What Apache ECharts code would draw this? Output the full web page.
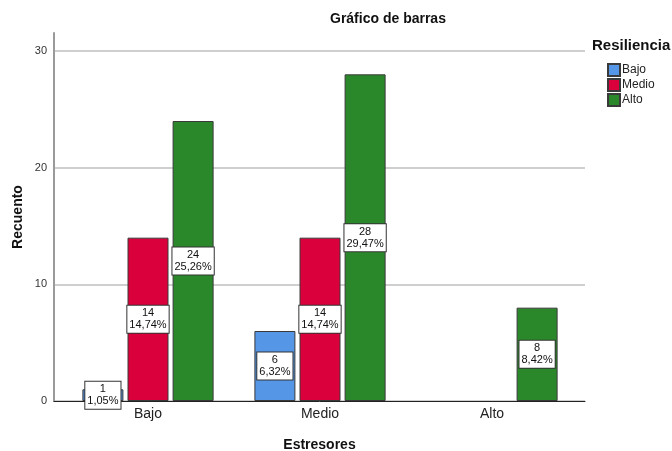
<!DOCTYPE html>
<html>
<head>
<meta charset="utf-8">
<script src="https://cdn.jsdelivr.net/npm/echarts@6/dist/echarts.min.js"></script>
<style>
  html, body { margin: 0; padding: 0; background: #fff; }
  #chart { width: 672px; height: 451px; }
</style>
</head>
<body>
<div id="chart"></div>
<script>
// categorias del eje X (Estresores)
var categories = ["Bajo", "Medio", "Alto"];
// series por nivel de Resiliencia (recuentos)
var bajo = [1, 6, null];
var medio = [14, 14, null];
var alto = [24, 28, 8];
var yTicks = [0, 10, 20, 30];

var total = 95;
var colors = { Bajo: "#5596e6", Medio: "#d9003b", Alto: "#2a882a" };
var font = "Liberation Sans, Arial, sans-serif";

function pct(v) {
  return (v / total * 100).toFixed(2).replace(".", ",") + "%";
}

function makeSeries(name, data) {
  return {
    name: name,
    type: "bar",
    xAxisIndex: 2,
    yAxisIndex: 2,
    data: data,
    barWidth: 41,
    barGap: "10%",
    itemStyle: { color: colors[name], borderColor: "#3a3a3a", borderWidth: 1 },
    label: {
      show: true,
      position: "inside",
      formatter: function (p) { return p.value + "\n" + pct(p.value); },
      backgroundColor: "#fff",
      borderColor: "#333",
      borderWidth: 1,
      padding: [2, 2, 1, 2],
      color: "#111",
      fontSize: 11,
      lineHeight: 12,
      fontFamily: font
    },
    emphasis: { disabled: true }
  };
}

var chart = echarts.init(document.getElementById("chart"));
chart.setOption({
  animation: false,
  title: [
    { text: "Gráfico de barras", left: 330, top: 12, padding: 0,
      textStyle: { fontSize: 14, fontWeight: "bold", color: "#111", fontFamily: font } },
    { text: "Resiliencia", left: 592, top: 38, padding: 0,
      textStyle: { fontSize: 15, fontWeight: "bold", color: "#111", fontFamily: font } }
  ],
  legend: {
    orient: "vertical",
    left: 607,
    top: 63,
    padding: 0,
    itemWidth: 12,
    itemHeight: 12,
    itemGap: 1,
    icon: "rect",
    data: ["Bajo", "Medio", "Alto"],
    textStyle: { fontSize: 12, lineHeight: 12, color: "#222", fontFamily: font, padding: [0, 0, 0, -3] }
  },
  grid: [
    { left: 54, right: 87, top: 51, bottom: 50, outerBoundsMode: "none" },
    { left: 54, right: 87, top: 33, bottom: 50, outerBoundsMode: "none" },
    { left: 62, right: 94, top: 51, bottom: 50, outerBoundsMode: "none" }
  ],
  xAxis: [
    { gridIndex: 0, type: "value", min: 0, max: 1,
      axisLine: { show: true, lineStyle: { color: "#222", width: 1 } },
      axisTick: { show: false }, axisLabel: { show: false }, splitLine: { show: false },
      name: "Estresores", nameLocation: "middle", nameGap: 37,
      nameTextStyle: { fontSize: 14, fontWeight: "bold", color: "#111", fontFamily: font } },
    { gridIndex: 1, type: "value", show: false },
    { gridIndex: 2, type: "category", data: categories,
      axisLine: { show: false }, axisTick: { show: false },
      axisLabel: { fontSize: 14, color: "#222", margin: 6, fontFamily: font } }
  ],
  yAxis: [
    { gridIndex: 0, type: "value", min: yTicks[0], max: yTicks[yTicks.length - 1], interval: 10,
      axisLine: { show: false }, axisTick: { show: false },
      axisLabel: { fontSize: 11, color: "#333", margin: 7, fontFamily: font },
      splitLine: { show: true, lineStyle: { color: "#cfcfcf", width: 2 } } },
    { gridIndex: 1, type: "value", min: 0, max: 1,
      axisLine: { show: true, lineStyle: { color: "#9a9a9a", width: 2 } },
      axisTick: { show: false }, axisLabel: { show: false }, splitLine: { show: false },
      name: "Recuento", nameLocation: "middle", nameGap: 29,
      nameTextStyle: { fontSize: 14, fontWeight: "bold", color: "#111", fontFamily: font } },
    { gridIndex: 2, type: "value", min: 0, max: 30, show: false }
  ],
  series: [
    makeSeries("Bajo", bajo),
    makeSeries("Medio", medio),
    makeSeries("Alto", alto)
  ]
});
</script>
</body>
</html>
